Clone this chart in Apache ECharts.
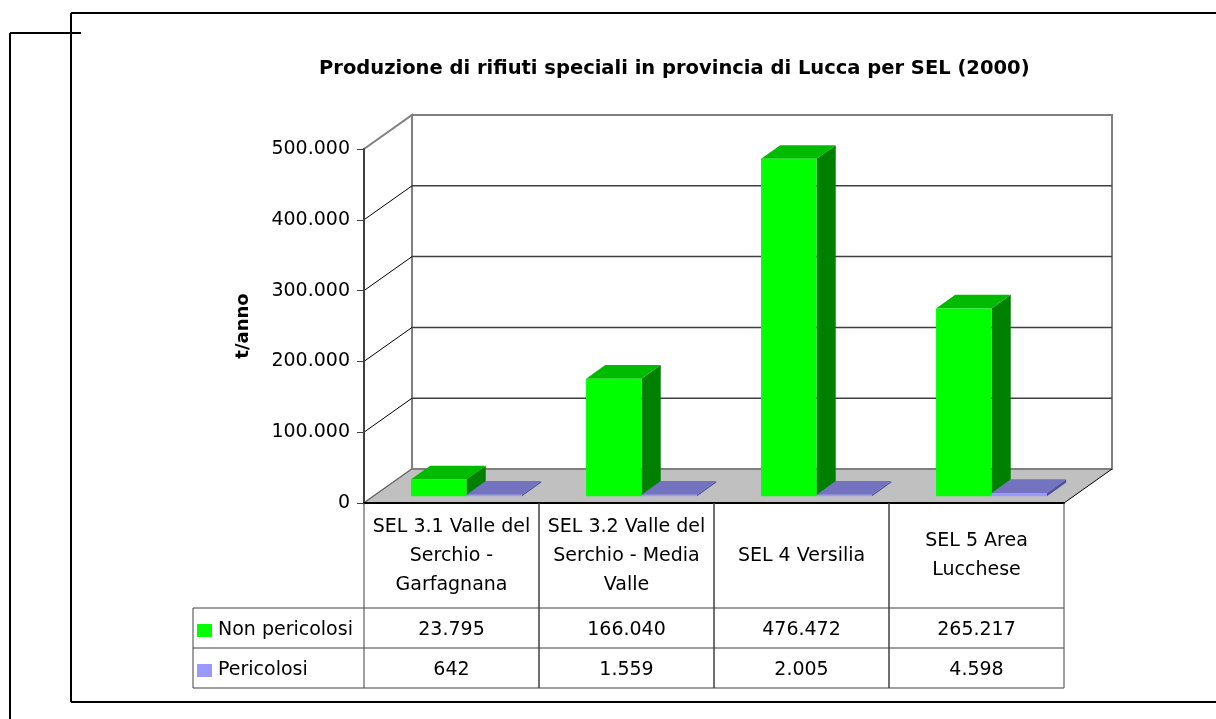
<!DOCTYPE html>
<html>
<head>
<meta charset="utf-8">
<script src="https://cdn.jsdelivr.net/npm/echarts@6/dist/echarts.min.js"></script>
<style>
html,body{margin:0;padding:0;background:#fff;}
#chart{width:1216px;height:719px;}
</style>
</head>
<body>
<div id="chart"></div>
<script>
// ---- data ----
const categories = [
  'SEL 3.1 Valle del\nSerchio -\nGarfagnana',
  'SEL 3.2 Valle del\nSerchio - Media\nValle',
  'SEL 4 Versilia',
  'SEL 5 Area\nLucchese'
];
const seriesNames = ['Non pericolosi', 'Pericolosi'];
const nonPericolosi = [23795, 166040, 476472, 265217];
const pericolosi = [642, 1559, 2005, 4598];
const yTicks = [0, 100000, 200000, 300000, 400000, 500000];
const titleText = 'Produzione di rifiuti speciali in provincia di Lucca per SEL (2000)';
const yName = 't/anno';

// ---- styling constants ----
const FONT = 'DejaVu Sans';
const DX = 48, DY = -34;           // depth vector of the 3D box
const BAR_FRONT = 0.2, BAR_DEPTH = 0.4;
const BAR_W = 0.317, BAR_GAP_L = 0.214;
const COLORS = [
  {front: '#00ff00', top: '#00bb00', side: '#008000'},
  {front: '#9999ff', top: '#7373c0', side: '#50509a'}
];
const HEADER_H = 105, ROW_H = 40, LEGEND_LEFT = 193;

function fmt(v) {
  return String(v).replace(/\B(?=(\d{3})+(?!\d))/g, '.');
}

const chart = echarts.init(document.getElementById('chart'), null, {renderer: 'canvas'});

function frameItem(params, api) {
  const cs = params.coordSys;
  const L = cs.x, R = cs.x + cs.width;
  const yMax = api.coord([0, yTicks[yTicks.length - 1]])[1];
  const y0 = api.coord([0, yTicks[0]])[1];
  const ch = [];
  ch.push({type: 'rect', shape: {x: L + DX, y: yMax + DY, width: R - L, height: y0 - yMax},
    style: {fill: '#ffffff', stroke: '#808080', lineWidth: 2}});
  ch.push({type: 'polygon', shape: {points: [[L, yMax], [L + DX, yMax + DY], [L + DX, y0 + DY], [L, y0]]},
    style: {fill: '#ffffff', stroke: '#808080', lineWidth: 2}});
  yTicks.forEach(function (t, i) {
    if (i === 0 || i === yTicks.length - 1) return;
    const y = api.coord([0, t])[1];
    ch.push({type: 'line', shape: {x1: L, y1: y, x2: L + DX, y2: y + DY}, style: {stroke: '#000', lineWidth: 1}});
    ch.push({type: 'line', shape: {x1: L + DX, y1: y + DY, x2: R + DX, y2: y + DY}, style: {stroke: '#404040', lineWidth: 1.5}});
  });
  ch.push({type: 'polygon', shape: {points: [[L, y0], [R, y0], [R + DX, y0 + DY], [L + DX, y0 + DY]]},
    style: {fill: '#c0c0c0', stroke: null}});
  ch.push({type: 'line', shape: {x1: L + DX, y1: y0 + DY, x2: R + DX, y2: y0 + DY}, style: {stroke: '#808080', lineWidth: 2}});
  ch.push({type: 'line', shape: {x1: L, y1: y0, x2: L + DX, y2: y0 + DY}, style: {stroke: '#606060', lineWidth: 1}});
  ch.push({type: 'line', shape: {x1: R, y1: y0, x2: R + DX, y2: y0 + DY}, style: {stroke: '#000', lineWidth: 1}});
  return {type: 'group', children: ch};
}

function barItem(si) {
  return function (params, api) {
    const cat = api.value(0), val = api.value(1);
    const bw = api.size([1, 0])[0];
    const base = api.coord([cat, 0]);
    const top = api.coord([cat, val]);
    const fx = DX * BAR_FRONT, fy = DY * BAR_FRONT;
    const ddx = DX * BAR_DEPTH, ddy = DY * BAR_DEPTH;
    const xl = base[0] - bw / 2 + fx + bw * (BAR_GAP_L + si * BAR_W);
    const w = bw * BAR_W, xr = xl + w;
    const yb = base[1] + fy;
    let yt = top[1] + fy;
    if (yb - yt < 1.5) yt = yb - 1.5;
    const c = COLORS[si];
    return {type: 'group', children: [
      {type: 'polygon', shape: {points: [[xr, yt], [xr + ddx, yt + ddy], [xr + ddx, yb + ddy], [xr, yb]]}, style: {fill: c.side}},
      {type: 'polygon', shape: {points: [[xl, yt], [xr, yt], [xr + ddx, yt + ddy], [xl + ddx, yt + ddy]]}, style: {fill: c.top}},
      {type: 'rect', shape: {x: xl, y: yt, width: w, height: yb - yt}, style: {fill: c.front}}
    ]};
  };
}

function tableItem(params, api) {
  const cat = api.value(0);
  const bw = api.size([1, 0])[0];
  const base = api.coord([cat, 0]);
  const y0 = base[1];
  const xL = base[0] - bw / 2, xR = base[0] + bw / 2;
  const yH = y0 + HEADER_H, y1 = yH + ROW_H, y2 = y1 + ROW_H;
  const ln = '#404040';
  const ch = [];
  ch.push({type: 'line', shape: {x1: xL, y1: y0, x2: xL, y2: y2}, style: {stroke: ln, lineWidth: 1}});
  ch.push({type: 'line', shape: {x1: xR, y1: y0, x2: xR, y2: y2}, style: {stroke: ln, lineWidth: 1}});
  ch.push({type: 'line', shape: {x1: xL, y1: yH, x2: xR, y2: yH}, style: {stroke: ln, lineWidth: 1}});
  ch.push({type: 'line', shape: {x1: xL, y1: y1, x2: xR, y2: y1}, style: {stroke: ln, lineWidth: 1}});
  ch.push({type: 'line', shape: {x1: xL, y1: y2, x2: xR, y2: y2}, style: {stroke: ln, lineWidth: 1}});
  const vals = [api.value(1), api.value(2)];
  vals.forEach(function (v, r) {
    ch.push({type: 'text', x: base[0], y: yH + ROW_H * r + ROW_H / 2 + 2,
      style: {text: fmt(v), fill: '#000', font: '19px "' + FONT + '"', align: 'center', verticalAlign: 'middle'}});
  });
  if (cat === 0) {
    ch.push({type: 'line', shape: {x1: LEGEND_LEFT, y1: yH, x2: xL, y2: yH}, style: {stroke: ln, lineWidth: 1}});
    ch.push({type: 'line', shape: {x1: LEGEND_LEFT, y1: y1, x2: xL, y2: y1}, style: {stroke: ln, lineWidth: 1}});
    ch.push({type: 'line', shape: {x1: LEGEND_LEFT, y1: y2, x2: xL, y2: y2}, style: {stroke: ln, lineWidth: 1}});
    ch.push({type: 'line', shape: {x1: LEGEND_LEFT, y1: yH, x2: LEGEND_LEFT, y2: y2}, style: {stroke: ln, lineWidth: 1}});
    seriesNames.forEach(function (n, r) {
      const cy = yH + ROW_H * r + ROW_H / 2 + 2;
      ch.push({type: 'rect', shape: {x: LEGEND_LEFT + 4, y: cy - 6, width: 15, height: 13}, style: {fill: COLORS[r].front}});
      ch.push({type: 'text', x: LEGEND_LEFT + 25, y: cy,
        style: {text: n, fill: '#000', font: '19px "' + FONT + '"', align: 'left', verticalAlign: 'middle'}});
    });
  }
  return {type: 'group', children: ch};
}

const option = {
  backgroundColor: '#ffffff',
  animation: false,
  title: {
    text: titleText, left: 314, top: 54,
    textStyle: {fontFamily: FONT, fontSize: 19.5, fontWeight: 'bold', color: '#000'}
  },
  grid: {left: 364, right: 152, top: 149, bottom: 216, containLabel: false},
  xAxis: {
    type: 'category', data: categories,
    axisLine: {show: true, lineStyle: {color: '#000', width: 2}},
    axisTick: {show: false},
    axisLabel: {interval: 0, fontFamily: FONT, fontSize: 19, lineHeight: 29, color: '#000',
      verticalAlign: 'middle', margin: 53}
  },
  yAxis: {
    type: 'value', min: 0, max: 500000, interval: 100000,
    name: yName, nameLocation: 'middle', nameRotate: 90, nameGap: 112,
    nameTextStyle: {fontFamily: FONT, fontSize: 18, fontWeight: 'bold', color: '#000'},
    axisLine: {show: true, lineStyle: {color: '#404040', width: 2}},
    axisTick: {show: true, length: 7, lineStyle: {color: '#404040', width: 1}},
    axisLabel: {fontFamily: FONT, fontSize: 19, color: '#000', margin: 14, formatter: fmt},
    splitLine: {show: false}
  },
  graphic: [
    {type: 'line', shape: {x1: 71, y1: 13, x2: 1216, y2: 13}, style: {stroke: '#000', lineWidth: 2}},
    {type: 'line', shape: {x1: 71, y1: 13, x2: 71, y2: 702}, style: {stroke: '#000', lineWidth: 2}},
    {type: 'line', shape: {x1: 71, y1: 702, x2: 1216, y2: 702}, style: {stroke: '#000', lineWidth: 2}},
    {type: 'line', shape: {x1: 10, y1: 33, x2: 81, y2: 33}, style: {stroke: '#000', lineWidth: 2}},
    {type: 'line', shape: {x1: 10, y1: 33, x2: 10, y2: 719}, style: {stroke: '#000', lineWidth: 2}}
  ],
  series: [
    {type: 'custom', name: 'frame', z: -1, silent: true, renderItem: frameItem, data: [[0]], clip: false},
    {type: 'custom', name: 'table', z: 1, silent: true, renderItem: tableItem, clip: false,
      data: categories.map(function (c, i) { return [i, nonPericolosi[i], pericolosi[i]]; })},
    {type: 'custom', name: seriesNames[0], z: 3, renderItem: barItem(0), clip: false,
      data: nonPericolosi.map(function (v, i) { return [i, v]; })},
    {type: 'custom', name: seriesNames[1], z: 4, renderItem: barItem(1), clip: false,
      data: pericolosi.map(function (v, i) { return [i, v]; })}
  ]
};
chart.setOption(option);
</script>
</body>
</html>
